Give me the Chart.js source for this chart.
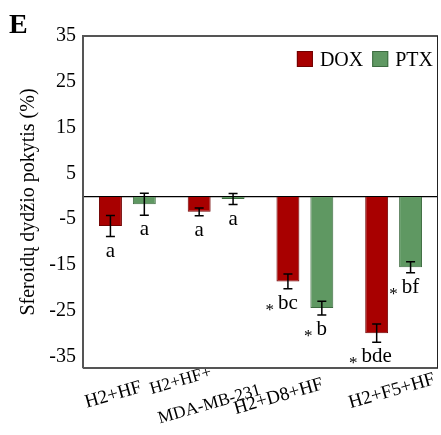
<!DOCTYPE html>
<html>
<head>
<meta charset="utf-8">
<script src="https://cdn.jsdelivr.net/npm/chart.js@4.4.1/dist/chart.umd.min.js"></script>
<style>
  html, body { margin: 0; padding: 0; background: #fff; }
  #wrap { width: 441px; height: 435px; position: relative; }
</style>
</head>
<body>
<div id="wrap"><canvas id="chart"></canvas></div>
<script>
/* ---------- data ---------- */
const categories = ['H2+HF', ['H2+HF+', 'MDA-MB-231'], 'H2+D8+HF', 'H2+F5+HF'];
const seriesNames = ['DOX', 'PTX'];
const doxValues = [-6.5, -3.4, -18.6, -29.9];
const ptxValues = [-1.75, -0.6, -24.4, -15.5];
const doxErrors = [2.3, 0.85, 1.6, 2.0];
const ptxErrors = [2.4, 1.2, 1.5, 1.2];
const doxLetters = ['a', 'a', 'bc', 'bde'];
const ptxLetters = ['a', 'a', 'b', 'bf'];
const doxStars = [false, false, true, true];
const ptxStars = [false, false, true, true];
const yTicks = [35, 25, 15, 5, -5, -15, -25, -35];

const SERIF = "'Liberation Serif', 'Times New Roman', serif";
const errors = [doxErrors, ptxErrors];
const letters = [doxLetters, ptxLetters];
const stars = [doxStars, ptxStars];

// category labels are hand-placed in the figure; small per-label nudges
const labelNudge = [[-27, 8], [-107, 7], [-23, 5], [0, 0]];
const labelAlign = ['right', 'left', 'right', 'right'];

/* ---------- x label placement ---------- */
const labelPlacePlugin = {
  id: 'labelPlace',
  beforeDraw(chart) {
    const xs = chart.scales.x;
    xs.getLabelItems().forEach((it, i) => {
      if (it._nudged) return;
      it._nudged = true;
      it.options.translation = [it.options.translation[0] + labelNudge[i][0], it.options.translation[1] + labelNudge[i][1]];
      it.options.textAlign = labelAlign[i];
    });
  }
};

/* ---------- error bars + significance letters ---------- */
const errorBarsPlugin = {
  id: 'errorBars',
  afterDatasetsDraw(chart) {
    const { ctx } = chart;
    const y = chart.scales.y;
    chart.data.datasets.forEach((ds, i) => {
      const meta = chart.getDatasetMeta(i);
      meta.data.forEach((bar, j) => {
        const v = ds.data[j];
        const e = errors[i][j];
        const top = y.getPixelForValue(v + e);
        const bot = y.getPixelForValue(v - e);
        ctx.save();
        ctx.strokeStyle = '#000';
        ctx.lineWidth = 1.5;
        ctx.beginPath();
        ctx.moveTo(bar.x, top); ctx.lineTo(bar.x, bot);
        ctx.moveTo(bar.x - 4.5, top); ctx.lineTo(bar.x + 4.5, top);
        ctx.moveTo(bar.x - 4.5, bot); ctx.lineTo(bar.x + 4.5, bot);
        ctx.stroke();

        // letters under the bar
        const base = bot + 20;
        ctx.fillStyle = '#000';
        ctx.font = '21px ' + SERIF;
        ctx.textAlign = 'center';
        ctx.textBaseline = 'alphabetic';
        const txt = letters[i][j];
        ctx.fillText(txt, bar.x, base);
        if (stars[i][j]) {
          const w = ctx.measureText(txt).width;
          ctx.textAlign = 'right';
          ctx.font = '17px ' + SERIF;
          ctx.fillText('*', bar.x - w / 2 - 4, base + 6);
        }
        ctx.restore();
      });
    });
  }
};

/* ---------- frame, in-plot legend, panel letter ---------- */
const framePlugin = {
  id: 'frame',
  afterDraw(chart) {
    const { ctx, chartArea: a } = chart;
    ctx.save();
    ctx.strokeStyle = '#555';
    ctx.lineWidth = 2;
    ctx.beginPath();
    ctx.moveTo(a.left, a.top); ctx.lineTo(a.right, a.top);
    ctx.moveTo(a.left, a.bottom); ctx.lineTo(a.right, a.bottom);
    ctx.stroke();
    ctx.strokeStyle = '#222';
    ctx.lineWidth = 1;
    ctx.beginPath();
    ctx.moveTo(a.right - 0.5, a.top); ctx.lineTo(a.right - 0.5, a.bottom);
    ctx.stroke();

    // legend inside the plot, top right
    ctx.font = '20px ' + SERIF;
    ctx.textBaseline = 'alphabetic';
    ctx.textAlign = 'left';
    const items = chart.data.datasets.map(ds => ({ label: ds.label, color: ds.backgroundColor, border: ds.borderColor }));
    let total = 0;
    items.forEach((it, k) => { it.w = ctx.measureText(it.label).width; total += 16 + 7 + it.w + (k ? 9 : 0); });
    let x = a.right - 5 - total;
    const boxTop = a.top + 15;
    items.forEach((it, k) => {
      if (k) x += 9;
      ctx.fillStyle = it.color;
      ctx.fillRect(x, boxTop, 16, 16);
      ctx.strokeStyle = it.border;
      ctx.lineWidth = 1;
      ctx.strokeRect(x + 0.5, boxTop + 0.5, 15, 15);
      x += 16 + 7;
      ctx.fillStyle = '#000';
      ctx.fillText(it.label, x, boxTop + 15);
      x += it.w;
    });

    // panel letter
    ctx.font = 'bold 28px ' + SERIF;
    ctx.fillStyle = '#000';
    ctx.fillText('E', 9, 33);
    ctx.restore();
  }
};

new Chart(document.getElementById('chart'), {
  type: 'bar',
  data: {
    labels: categories,
    datasets: [
      { label: seriesNames[0], data: doxValues, backgroundColor: '#a80000', borderColor: '#700000', borderWidth: 1 },
      { label: seriesNames[1], data: ptxValues, backgroundColor: '#5f9862', borderColor: '#3d6b40', borderWidth: 1 }
    ]
  },
  options: {
    responsive: true,
    maintainAspectRatio: false,
    animation: false,
    datasets: { bar: { categoryPercentage: 0.764, barPercentage: 0.676 } },
    layout: { padding: { top: 36, right: 3, left: 0, bottom: 0 } },
    plugins: { legend: { display: false }, tooltip: { enabled: false } },
    scales: {
      x: {
        grid: { display: false, drawTicks: false },
        border: { display: false },
        ticks: {
          color: '#000',
          font: ctx => (ctx.index === 1
            ? { family: SERIF, size: 17.5, lineHeight: 1.75 }
            : { family: SERIF, size: 19, lineHeight: 1.2 }),
          autoSkip: false,
          minRotation: 16, maxRotation: 16,
          padding: 0,
          labelOffset: 41
        },
        afterFit(scale) { scale.height = 67; scale.paddingLeft = 0; scale.paddingRight = 0; }
      },
      y: {
        min: -37.5,
        max: 35,
        afterBuildTicks(scale) {
          scale.ticks = yTicks.concat([0]).map(v => ({ value: v }));
        },
        grid: {
          drawTicks: false,
          color: ctx => (ctx.tick && ctx.tick.value === 0 ? '#000' : 'rgba(0,0,0,0)'),
          lineWidth: 1.3
        },
        border: { display: true, color: '#555', width: 2 },
        ticks: {
          color: '#000',
          font: { family: SERIF, size: 20 },
          padding: 7,
          callback: v => (v === 0 ? '' : v)
        },
        title: {
          display: true,
          text: 'Sferoidų dydžio pokytis (%)',
          color: '#000',
          font: { family: SERIF, size: 20 },
          padding: { top: 17, bottom: 0 }
        },
        afterFit(scale) { scale.width = 83; }
      }
    }
  },
  plugins: [labelPlacePlugin, errorBarsPlugin, framePlugin]
});
</script>
</body>
</html>
